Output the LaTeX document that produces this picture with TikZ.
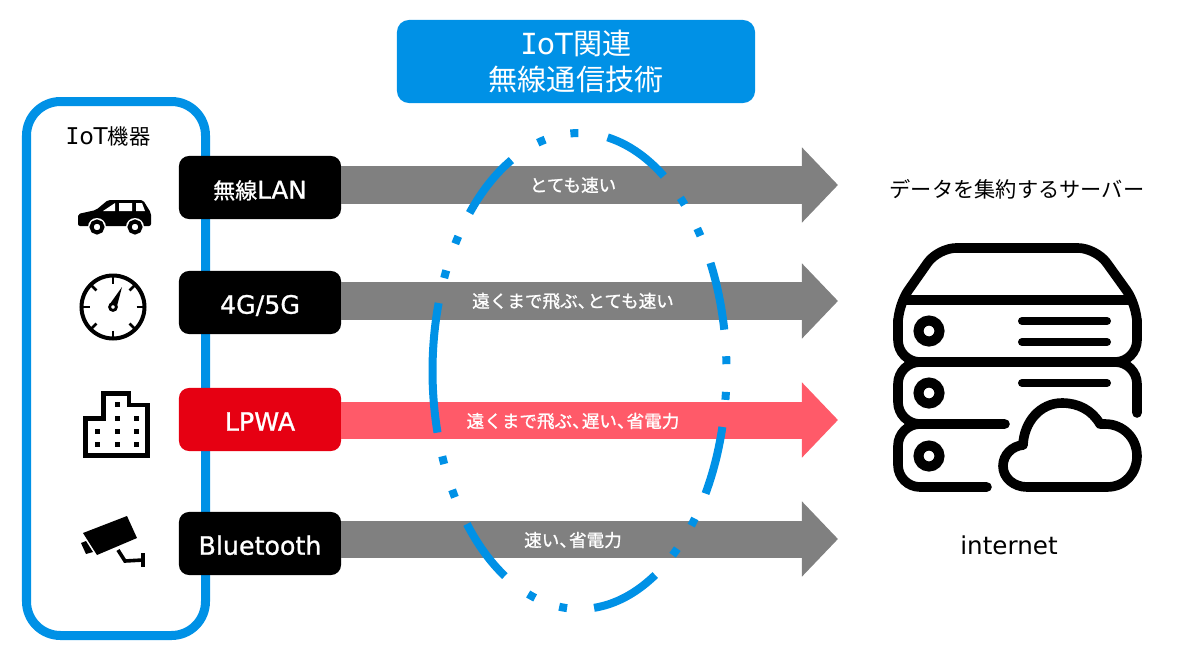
\documentclass[tikz,border=0pt]{standalone}
\usepackage{fontspec}
\setmainfont{Noto Sans CJK JP}
\newfontfamily\med[FakeBold=1]{Noto Sans CJK JP}
\newfontfamily\lat{DejaVu Sans}
\newfontfamily\latmed[FakeBold=1]{DejaVu Sans}
\newfontfamily\latI{DejaVu Sans Mono}
\usetikzlibrary{arrows.meta}
\definecolor{iotblue}{HTML}{0091E6}
\definecolor{iotred}{HTML}{E60012}
\definecolor{iotpink}{HTML}{FF5A69}
\definecolor{iotgray}{HTML}{808080}
\newcommand\touten{、\hspace{-.45em}}
\begin{document}
\begin{tikzpicture}[x=.025cm,y=-.025cm,
radio/.style={fill=black,rounded corners=.25cm,minimum width=4.05cm,minimum height=1.575cm,inner sep=0,text=white,text height=.56cm,text depth=0pt,font=\med\fontsize{15.6}{18}\selectfont},
flow/.style={draw=iotgray,line width=.925cm,-{Triangle[length=.9cm,width=1.825cm]}},
speed/.style={text=white,inner sep=0,font=\med\fontsize{12.5}{15}\selectfont},
plain/.style={inner sep=0,text=black,font=\fontsize{15.1}{18}\selectfont},
icon/.style={line width=.24cm,line cap=round,line join=round}]
\useasboundingbox (0,0) rectangle (1179,658);
\draw[iotblue,line width=.225cm,rounded corners=.85cm] (26.5,101.5) rectangle (205.5,635.5);
\node[fill=iotblue,rounded corners=.3cm,minimum width=8.95cm,minimum height=2.075cm,inner sep=0,text=white,align=center,font=\fontsize{20.7}{25.6}\selectfont] (title) at (576,61.5) {{\lat{\latI I}oT}関連\\無線通信技術};
\node[plain] (things) at (108,136) {{\lat\fontsize{16.4}{18}\selectfont{\latI I}oT}機器};
\node[radio] (wifi) at (260,187.5) {無線{\latmed\fontsize{17.5}{18}\selectfont LAN}};
\node[radio] (cell) at (260,302.5) {\latmed\fontsize{18}{18}\selectfont 4G/5G};
\node[radio,fill=iotred] (lpwa) at (260,419.5) {\latmed\fontsize{18}{18}\selectfont LPWA};
\node[radio] (ble) at (260,543.5) {\latmed\fontsize{18}{18}\selectfont Bluetooth};
\coordinate (wifitip) at (838,185);
\coordinate (celltip) at (838,301);
\coordinate (lpwatip) at (838,420);
\coordinate (bletip) at (838,539);
\draw[flow] (wifi.east |- wifitip) -- (wifitip);
\draw[flow] (cell.east |- celltip) -- (celltip);
\draw[flow,draw=iotpink] (lpwa.east |- lpwatip) -- (lpwatip);
\draw[flow] (ble.east |- bletip) -- (bletip);
\node[speed] (wifitext) at (573,185) {とても速い};
\node[speed] (celltext) at (573,301) {遠くまで飛ぶ\touten とても速い};
\node[speed] (lpwatext) at (573,421) {遠くまで飛ぶ\touten 遅い\touten 省電力};
\node[speed] (bletext) at (573,540) {速い\touten 省電力};
\begin{scope}[shift={(579.5,371)}]
\foreach \a/\b in {79/55,27/10,-13.6/-31,-59/-84.3,-120.5/-140,-165/-196.6,138.4/117.6}
  \draw[iotblue,line width=.2cm] plot[domain=\a:\b,samples=24,smooth] ({147*cos(\x)},{-238*sin(\x)});
\foreach \t in {45.5,35.7,2.6,-6,-39.4,-49.5,-96.4,-109,-149,-158,156,146.6,105,92}{
  \pgfmathsetmacro\h{2.29/sqrt((1.47*sin(\t))^2+(2.38*cos(\t))^2)}
  \draw[iotblue,line width=.2cm] plot[domain=\t-\h:\t+\h,samples=5] ({147*cos(\x)},{-238*sin(\x)});
}
\end{scope}
\node[plain] (collect) at (1017,189) {データを集約するサーバー};
\node[plain,font=\lat\fontsize{17.5}{18}\selectfont] (net) at (1009,545) {internet};
% car
\fill[rounded corners=.05cm] (78,226) -- (78,214) -- (96,210) -- (108,200) -- (143,200) -- (151,213) -- (151,226) -- cycle;
\fill[white] (103,211) -- (115,203) -- (115,211) -- cycle (119,203) -- (132,203) -- (132,211) -- (119,211) -- cycle (136,203) -- (142,203) -- (145,211) -- (136,211) -- cycle;
\foreach \wx in {97,135}{
  \fill[white] (\wx,227) circle[radius=9];
  \draw[line width=.1cm,fill=white] (\wx,227) circle[radius=5.5];
}
% gauge
\draw[line width=.1cm] (113,307) circle[radius=31.5];
\foreach \ang in {0,45,...,315}
  \draw[line width=.07cm] ([shift={(\ang:23.5)}]113,307) -- ([shift={(\ang:31)}]113,307);
\fill (122,287) -- (116.5,308) -- (109.5,304.5) -- cycle;
\draw[line width=.07cm,fill=white] (113,307) circle[radius=3.4];
% building
\draw[line width=.12cm] (85.5,455.5) -- (85.5,418.5) -- (103.5,418.5) -- (103.5,393.5) -- (129,393.5) -- (129,405) -- (147.5,405) -- (147.5,455.5) -- cycle;
\foreach \wx/\wy in {97/444,117/444,136/444,97/431,117/431,136/431,117/418,136/418,117/404}
  \fill (\wx-2.5,\wy-2.5) rectangle (\wx+2.5,\wy+2.5);
% camera
\fill (83,533) -- (127,516) -- (137,538) -- (97,555) -- cycle;
\fill (81,543) -- (86,541) -- (93,552) -- (86,554) -- cycle;
\draw[line width=.09cm] (118,550) -- (125,561) -- (143,560);
\draw[line width=.09cm] (143,553) -- (143,567);
% server
\draw[icon] (905,300) -- (1130,300);
\draw[icon,rounded corners=.45cm] (898,335) -- (898,305) -- (938,248) -- (1096,248) -- (1137,305) -- (1137,335);
\draw[icon,rounded corners=.55cm] (898,320) -- (898,362) -- (1137,362) -- (1137,320);
\draw[icon,rounded corners=.55cm] (1005,424) -- (898,424) -- (898,362) -- (1137,362) -- (1137,413);
\draw[icon,rounded corners=.55cm] (987,487) -- (898,487) -- (898,424) -- (920,424);
\foreach \sy in {331,393,456}
  \draw[line width=.25cm] (929,\sy) circle[radius=10.5];
\foreach \ly/\lx in {321/1107,342/1107,383/1107}
  \draw[icon,line width=.2cm] (1022,\ly) -- (\lx,\ly);
\draw[icon] (1027,487) -- (1107,487) .. controls (1125,487) and (1137,473) .. (1137,456) .. controls (1137,438) and (1123,424) .. (1105,424) -- (1100,424) .. controls (1092,410) and (1078,403) .. (1062,403) .. controls (1040,403) and (1024,422) .. (1023,445) .. controls (1012,446) and (1003,455) .. (1003,466) .. controls (1003,478) and (1014,487) .. (1027,487) -- cycle;
\end{tikzpicture}
\end{document}
